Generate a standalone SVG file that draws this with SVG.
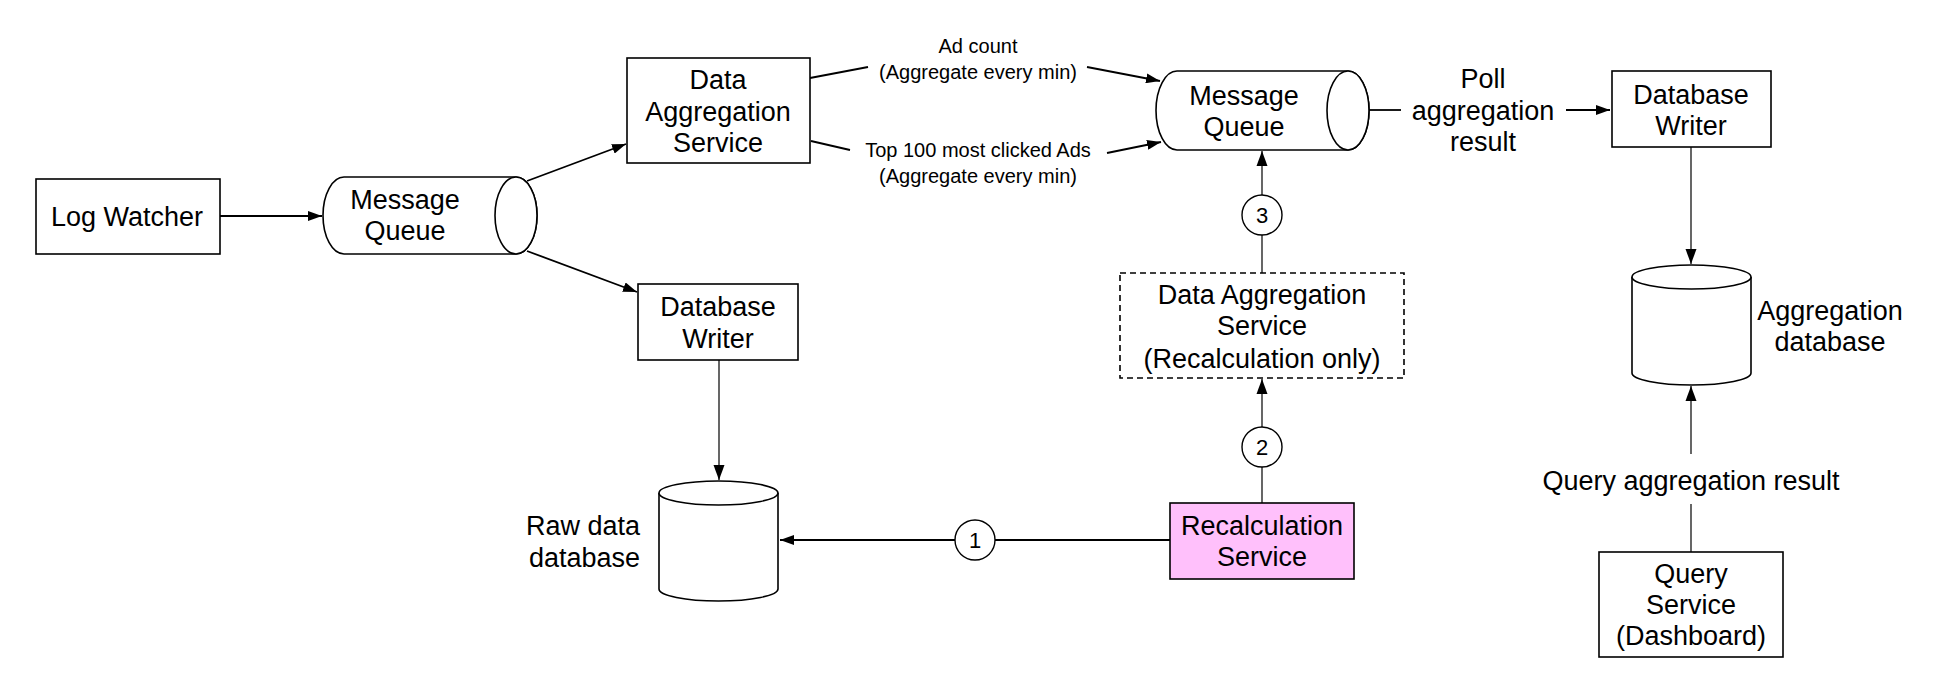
<svg xmlns="http://www.w3.org/2000/svg" width="1940" height="692" viewBox="0 0 1940 692">
<defs>
<style>
.box{fill:#fff;stroke:#000;stroke-width:1.6}
.t{font-family:"Liberation Sans",Arial,sans-serif;font-size:27px;fill:#000;text-anchor:middle;dominant-baseline:central}
.s{font-family:"Liberation Sans",Arial,sans-serif;font-size:20px;fill:#000;text-anchor:middle;dominant-baseline:central}
.n{font-family:"Liberation Sans",Arial,sans-serif;font-size:22px;fill:#000;text-anchor:middle;dominant-baseline:central}
.c{fill:none;stroke:#000;stroke-width:1.8}
.thin{fill:none;stroke:#000;stroke-width:1.2}
.num{fill:#fff;stroke:#000;stroke-width:1.4}
</style>
<marker id="arr" viewBox="0 0 14 10" refX="14" refY="5" markerWidth="14" markerHeight="10" orient="auto" markerUnits="userSpaceOnUse"><path d="M0,0 L14,5 L0,10 z" fill="#000"/></marker>
<marker id="arrn" viewBox="0 0 15 12" refX="15" refY="6" markerWidth="15" markerHeight="12" orient="auto" markerUnits="userSpaceOnUse"><path d="M0,0.5 L15,6 L0,11.5 z" fill="#000"/></marker>
</defs>
<rect width="1940" height="692" fill="#fff"/>

<g id="connectors">
<line class="c" x1="220" y1="216" x2="322" y2="216" marker-end="url(#arr)"/>
<line class="c" x1="527" y1="181" x2="626" y2="144" marker-end="url(#arr)"/>
<line class="c" x1="527" y1="251" x2="637" y2="292" marker-end="url(#arr)"/>
<line class="thin" x1="719" y1="360" x2="719" y2="480" marker-end="url(#arrn)"/>
<line class="c" x1="810" y1="78" x2="868" y2="67"/>
<line class="c" x1="1087" y1="67" x2="1160" y2="81" marker-end="url(#arr)"/>
<line class="c" x1="811" y1="141" x2="850" y2="150"/>
<line class="c" x1="1107" y1="153" x2="1161" y2="142" marker-end="url(#arr)"/>
<line class="c" x1="1369" y1="110" x2="1401" y2="110"/>
<line class="c" x1="1566" y1="110" x2="1610" y2="110" marker-end="url(#arr)"/>
<line class="thin" x1="1691" y1="147" x2="1691" y2="264" marker-end="url(#arrn)"/>
<line class="thin" x1="1691" y1="552" x2="1691" y2="504"/>
<line class="thin" x1="1691" y1="454" x2="1691" y2="386" marker-end="url(#arrn)"/>
<line class="c" x1="1170" y1="540" x2="995" y2="540"/>
<line class="c" x1="955" y1="540" x2="780" y2="540" marker-end="url(#arr)"/>
<line class="thin" x1="1262" y1="503" x2="1262" y2="467"/>
<line class="thin" x1="1262" y1="427" x2="1262" y2="379" marker-end="url(#arrn)"/>
<line class="thin" x1="1262" y1="273" x2="1262" y2="235"/>
<line class="thin" x1="1262" y1="195" x2="1262" y2="151" marker-end="url(#arrn)"/>
<text class="s" x="978" y="46">Ad count</text>
<text class="s" x="978" y="72">(Aggregate every min)</text>
<text class="s" x="978" y="150">Top 100 most clicked Ads</text>
<text class="s" x="978" y="176">(Aggregate every min)</text>
<text class="t" x="1483" y="79">Poll</text>
<text class="t" x="1483" y="111">aggregation</text>
<text class="t" x="1483" y="142">result</text>
<text class="t" x="1691" y="481">Query aggregation result</text>
<circle class="num" cx="975" cy="540" r="20"/>
<text class="n" x="975" y="540">1</text>
<circle class="num" cx="1262" cy="447" r="20"/>
<text class="n" x="1262" y="447">2</text>
<circle class="num" cx="1262" cy="215" r="20"/>
<text class="n" x="1262" y="215">3</text>
</g>

<g id="log-watcher">
<rect class="box" x="36" y="179" width="184" height="75"/>
<text class="t" x="127" y="217">Log Watcher</text>
</g>

<g id="message-queue-1">
<path class="box" d="M344,177 L516,177 A21,38.5 0 0 1 516,254 L344,254 A21,38.5 0 0 1 344,177 Z"/>
<ellipse class="box" cx="516" cy="215.5" rx="21" ry="38.5"/>
<text class="t" x="405" y="200">Message</text>
<text class="t" x="405" y="231">Queue</text>
</g>

<g id="data-aggregation-service">
<rect class="box" x="627" y="58" width="183" height="105"/>
<text class="t" x="718" y="80">Data</text>
<text class="t" x="718" y="112">Aggregation</text>
<text class="t" x="718" y="143">Service</text>
</g>

<g id="database-writer-1">
<rect class="box" x="638" y="284" width="160" height="76"/>
<text class="t" x="718" y="307">Database</text>
<text class="t" x="718" y="339">Writer</text>
</g>

<g id="raw-data-database">
<path class="box" d="M659,493 A59.5,12 0 0 1 778,493 L778,589 A59.5,12 0 0 1 659,589 Z"/>
<path class="box" d="M659,493 A59.5,12 0 0 0 778,493"/>
<text class="t" x="640" y="526" style="text-anchor:end">Raw data</text>
<text class="t" x="640" y="558" style="text-anchor:end">database</text>
</g>

<g id="message-queue-2">
<path class="box" d="M1177,71 L1348,71 A21,39.5 0 0 1 1348,150 L1177,150 A21,39.5 0 0 1 1177,71 Z"/>
<ellipse class="box" cx="1348" cy="110.5" rx="21" ry="39.5"/>
<text class="t" x="1244" y="96">Message</text>
<text class="t" x="1244" y="127">Queue</text>
</g>

<g id="database-writer-2">
<rect class="box" x="1612" y="71" width="159" height="76"/>
<text class="t" x="1691" y="95">Database</text>
<text class="t" x="1691" y="126">Writer</text>
</g>

<g id="aggregation-database">
<path class="box" d="M1632,277 A59.5,12 0 0 1 1751,277 L1751,373 A59.5,12 0 0 1 1632,373 Z"/>
<path class="box" d="M1632,277 A59.5,12 0 0 0 1751,277"/>
<text class="t" x="1830" y="311">Aggregation</text>
<text class="t" x="1830" y="342">database</text>
</g>

<g id="data-aggregation-recalc">
<rect class="box" x="1120" y="273" width="284" height="105" style="stroke-dasharray:6 4"/>
<text class="t" x="1262" y="295">Data Aggregation</text>
<text class="t" x="1262" y="326">Service</text>
<text class="t" x="1262" y="359">(Recalculation only)</text>
</g>

<g id="recalculation-service">
<rect class="box" x="1170" y="503" width="184" height="76" style="fill:#FFC0FB"/>
<text class="t" x="1262" y="526">Recalculation</text>
<text class="t" x="1262" y="557">Service</text>
</g>

<g id="query-service">
<rect class="box" x="1599" y="552" width="184" height="105"/>
<text class="t" x="1691" y="574">Query</text>
<text class="t" x="1691" y="605">Service</text>
<text class="t" x="1691" y="636">(Dashboard)</text>
</g>
</svg>
